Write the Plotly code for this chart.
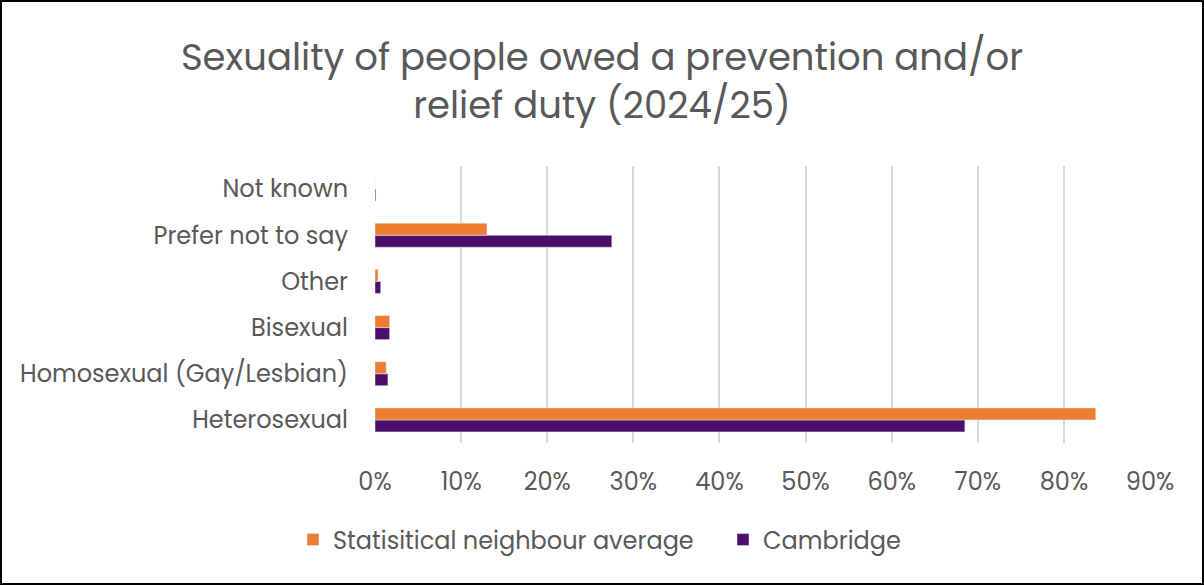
import plotly.graph_objects as go

categories = ["Heterosexual", "Homosexual (Gay/Lesbian)", "Bisexual", "Other",
              "Prefer not to say", "Not known"]
neighbour_avg = [0.837, 0.013, 0.017, 0.0035, 0.130, 0.0]
cambridge = [0.685, 0.015, 0.017, 0.0066, 0.275, 0.001]
tick_vals = [0, 0.1, 0.2, 0.3, 0.4, 0.5, 0.6, 0.7, 0.8, 0.9]
tick_text = ["0%", "10%", "20%", "30%", "40%", "50%", "60%", "70%", "80%", "90%"]

ORANGE = "#ED7D31"
PURPLE = "#4B0F6B"
TEXT = "#595959"
FONT = "Poppins, Open Sans, sans-serif"

W, H = 1204, 585
L, R, T, B = 375, 54, 166, 142

fig = go.Figure()
fig.add_trace(go.Bar(y=categories, x=cambridge, orientation="h", name="Cambridge",
                     marker=dict(color=PURPLE), legend="legend2"))
fig.add_trace(go.Bar(y=categories, x=neighbour_avg, orientation="h",
                     name="Statisitical neighbour average", marker=dict(color=ORANGE),
                     legend="legend"))

# outer frame around the whole figure, expressed in paper units
pw, ph = W - L - R, H - T - B
fig.add_shape(type="rect", xref="paper", yref="paper",
              x0=(1 - L) / pw, x1=(W - 1 - L) / pw,
              y0=-(H - 1 - T - ph) / ph, y1=1 + (T - 1) / ph,
              line=dict(color="black", width=2), layer="above")

legend_style = dict(orientation="h", xref="container", yref="container",
                    xanchor="left", yanchor="middle", y=1 - 540 / H,
                    font=dict(size=24, color=TEXT), itemwidth=30)

fig.update_layout(
    width=W, height=H,
    margin=dict(l=L, r=R, t=T, b=B, autoexpand=False),
    paper_bgcolor="white", plot_bgcolor="white",
    barmode="group", bargap=0.48, bargroupgap=0,
    font=dict(family=FONT, color=TEXT, size=24),
    title=dict(text="Sexuality of people owed a prevention and/or<br>relief duty (2024/25)",
               x=0.5, xref="container", xanchor="center",
               y=1 - 70 / H, yref="container", yanchor="top",
               font=dict(size=37, color=TEXT, family=FONT)),
    showlegend=True,
    legend=dict(x=293 / W, **legend_style),
    legend2=dict(x=723 / W, **legend_style),
    xaxis=dict(range=[0, 0.9], tickvals=tick_vals, ticktext=tick_text,
               showgrid=True, gridcolor="#D9D9D9", gridwidth=2, zeroline=False,
               showline=False, ticks="", ticklabelstandoff=22),
    yaxis=dict(showgrid=False, zeroline=False, showline=False, ticks="",
               ticklabelstandoff=26),
)

fig.write_html("out.html")
